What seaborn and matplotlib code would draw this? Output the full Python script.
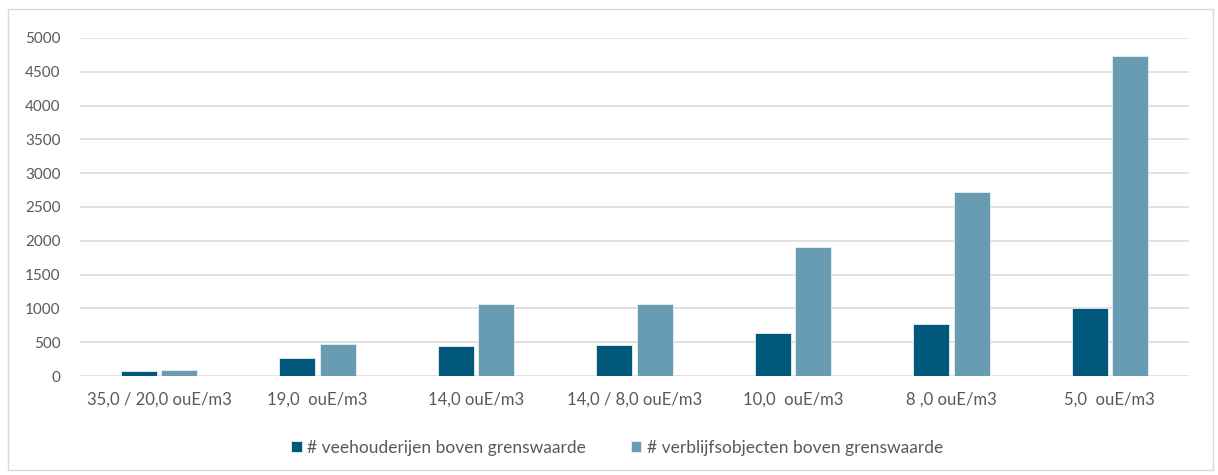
import pandas as pd
import matplotlib.pyplot as plt
import seaborn as sns
from matplotlib.patches import Rectangle

# data
categories = ['35,0 / 20,0 ouE/m3', '19,0  ouE/m3', '14,0 ouE/m3', '14,0 / 8,0 ouE/m3',
              '10,0  ouE/m3', '8 ,0 ouE/m3', '5,0  ouE/m3']
veehouderijen = [70, 265, 450, 460, 640, 765, 1005]
verblijfsobjecten = [90, 480, 1060, 1065, 1910, 2715, 4730]
series_names = ['# veehouderijen boven grenswaarde', '# verblijfsobjecten boven grenswaarde']
colors = ['#00587A', '#679CB2']

df = pd.DataFrame({
    'cat': categories * 2,
    'value': veehouderijen + verblijfsobjecten,
    'serie': [series_names[0]] * len(categories) + [series_names[1]] * len(categories),
})

sns.set_style('white')
plt.rcParams['font.family'] = ['Lato', 'DejaVu Sans']

fig = plt.figure(figsize=(12.18, 4.75), dpi=100)
ax = fig.add_axes([80 / 1218, 1 - 376 / 475, (1189 - 80) / 1218, (376 - 38) / 475])

sns.barplot(data=df, x='cat', y='value', hue='serie', palette=colors, saturation=1,
            width=0.51, gap=0.11, ax=ax, edgecolor='#E8F0F4', linewidth=0.6,
            zorder=3)

ax.set_ylim(0, 5000)
ax.set_yticks(range(0, 5001, 500))
ax.grid(axis='y', color='#D9D9D9', linewidth=1.1, zorder=0)
ax.set_axisbelow(True)
for s in ax.spines.values():
    s.set_visible(False)
ax.tick_params(axis='y', length=0, labelsize=11, colors='#595959', pad=14)
ax.tick_params(axis='x', length=0, labelsize=12, colors='#595959', pad=11)
ax.set_xlabel('')
ax.set_ylabel('')

handles, labels = ax.get_legend_handles_labels()
ax.get_legend().remove()
fig.legend(handles, labels, loc='center', bbox_to_anchor=(617 / 1218, 1 - 448 / 475), ncol=2,
           frameon=False, fontsize=12.5, labelcolor='#595959', handlelength=0.6,
           handleheight=0.6, handletextpad=0.3, columnspacing=2.6)

# thin frame around the chart area
fig.patches.append(Rectangle((8 / 1218, 1 - 470 / 475), (1213 - 8) / 1218, (470 - 9) / 475,
                             transform=fig.transFigure, fill=False,
                             edgecolor='#D9D9D9', linewidth=1))

fig.savefig('out.png', dpi=100)
